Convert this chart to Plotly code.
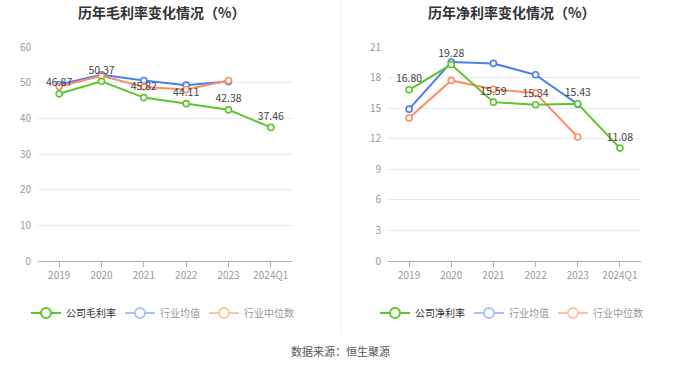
import plotly.graph_objects as go

categories = ["2019", "2020", "2021", "2022", "2023", "2024Q1"]

gross_company = [46.87, 50.37, 45.82, 44.11, 42.38, 37.46]
gross_ind_avg = [49.5, 52.2, 50.6, 49.3, 50.3, None]
gross_ind_med = [48.9, 51.9, 48.8, 48.1, 50.6, None]

net_company = [16.80, 19.28, 15.59, 15.34, 15.43, 11.08]
net_ind_avg = [14.9, 19.52, 19.39, 18.27, 15.39, None]
net_ind_med = [14.04, 17.72, 16.86, 16.47, 12.17, None]

left_names = ["公司毛利率", "行业均值", "行业中位数"]
right_names = ["公司净利率", "行业均值", "行业中位数"]

GREEN = "#5cc72a"
BLUE = "#4a80ee"
ORANGE = "#ff8c63"
GREEN_L = "#5cc72a"
BLUE_L = "#a9c2f6"
ORANGE_L = "#ffc2ab"

FONT = "Noto Sans CJK SC"
W, H = 680, 367

def px_x(p):
    return p / W

def px_y(p):
    return 1 - p / H

fig = go.Figure()

def add_series(xa, ya, y, color, name, labels):
    fig.add_trace(go.Scatter(
        x=categories, y=y, xaxis=xa, yaxis=ya, name=name,
        mode="lines+markers+text" if labels else "lines+markers",
        text=[f"{v:.2f}" for v in y] if labels else None,
        textposition="top center",
        textfont=dict(size=10.5, color="#444", family=FONT),
        line=dict(color=color, width=2),
        marker=dict(symbol="circle", size=6, color="white",
                    line=dict(color=color, width=1.6)),
        showlegend=False, cliponaxis=False, connectgaps=False,
        hoverinfo="skip",
    ))

add_series("x", "y", gross_ind_avg, BLUE, left_names[1], False)
add_series("x", "y", gross_ind_med, ORANGE, left_names[2], False)
add_series("x", "y", gross_company, GREEN, left_names[0], True)
add_series("x2", "y2", net_ind_avg, BLUE, right_names[1], False)
add_series("x2", "y2", net_ind_med, ORANGE, right_names[2], False)
add_series("x2", "y2", net_company, GREEN, right_names[0], True)

# legend-only items (one legend per item so each has its own text colour)
def legend_starts(center, names, char_w=10, text_off=36, gap=8):
    widths = [text_off + char_w * len(n) for n in names]
    total = sum(widths) + gap * (len(widths) - 1)
    x = center - total / 2
    out = []
    for w in widths:
        out.append(x)
        x += w + gap
    return out

left_starts = legend_starts(165, left_names)
right_starts = legend_starts(514, right_names)
legend_items = [
    (left_names[0], GREEN_L, "#333", left_starts[0]),
    (left_names[1], BLUE_L, "#999", left_starts[1]),
    (left_names[2], ORANGE_L, "#999", left_starts[2]),
    (right_names[0], GREEN_L, "#333", right_starts[0]),
    (right_names[1], BLUE_L, "#999", right_starts[1]),
    (right_names[2], ORANGE_L, "#999", right_starts[2]),
]
layout_legends = {}
for i, (name, col, tcol, line_x) in enumerate(legend_items):
    key = "legend" if i == 0 else f"legend{i+1}"
    fig.add_trace(go.Scatter(
        x=[None], y=[None], name=name, mode="lines+markers",
        line=dict(color=col, width=2),
        marker=dict(symbol="circle", size=10, color="white",
                    line=dict(color=col, width=2)),
        legend=key, showlegend=True,
    ))
    layout_legends[key] = dict(
        x=px_x(line_x - 7), y=px_y(313), xanchor="left", yanchor="middle",
        orientation="h", bgcolor="rgba(0,0,0,0)",
        font=dict(size=10, color=tcol, family=FONT),
        itemwidth=30, tracegroupgap=0,
    )

axis_common_x = dict(
    type="category", range=[-0.5, 5.5], showgrid=False,
    showline=True, linecolor="#b0b0b0", linewidth=1,
    ticks="outside", ticklen=5, tickcolor="#b0b0b0",
    tickfont=dict(size=10, color="#999", family=FONT),
    fixedrange=True, zeroline=False, automargin=False,
)
axis_common_y = dict(
    showgrid=True, gridcolor="#e6ebf3", gridwidth=1,
    showline=False, zeroline=False, ticks="",
    tickfont=dict(size=10, color="#999", family=FONT),
    fixedrange=True, ticklabelstandoff=6, automargin=False,
)

fig.update_layout(
    width=W, height=H,
    margin=dict(l=0, r=0, t=0, b=0, pad=0, autoexpand=False),
    paper_bgcolor="white", plot_bgcolor="white",
    font=dict(family=FONT),
    hovermode=False,
    xaxis=dict(domain=[px_x(38), px_x(292)], anchor="y", **axis_common_x),
    yaxis=dict(domain=[px_y(261), px_y(47)], anchor="x", range=[0, 60], dtick=10, **axis_common_y),
    xaxis2=dict(domain=[px_x(388), px_x(641)], anchor="y2", **axis_common_x),
    yaxis2=dict(domain=[px_y(261), px_y(47)], anchor="x2", range=[0, 21], dtick=3, **axis_common_y),
    **layout_legends,
    annotations=[
        dict(text="<b>历年毛利率变化情况（%）</b>", x=px_x(161), y=px_y(12),
             xref="paper", yref="paper", showarrow=False,
             xanchor="center", yanchor="middle",
             font=dict(size=14, color="#333", family=FONT)),
        dict(text="<b>历年净利率变化情况（%）</b>", x=px_x(511), y=px_y(12),
             xref="paper", yref="paper", showarrow=False,
             xanchor="center", yanchor="middle",
             font=dict(size=14, color="#333", family=FONT)),
        dict(text="数据来源：恒生聚源", x=px_x(340), y=px_y(351),
             xref="paper", yref="paper", showarrow=False,
             xanchor="center", yanchor="middle",
             font=dict(size=11, color="#555", family=FONT)),
    ],
    shapes=[
        dict(type="line", xref="paper", yref="paper",
             x0=px_x(341), x1=px_x(341), y0=px_y(333), y1=1,
             line=dict(color="#f0f0f0", width=1)),
    ],
)

fig.write_html("out.html", config={"displayModeBar": False, "staticPlot": False},
               post_script="document.body.style.margin='0px';")
